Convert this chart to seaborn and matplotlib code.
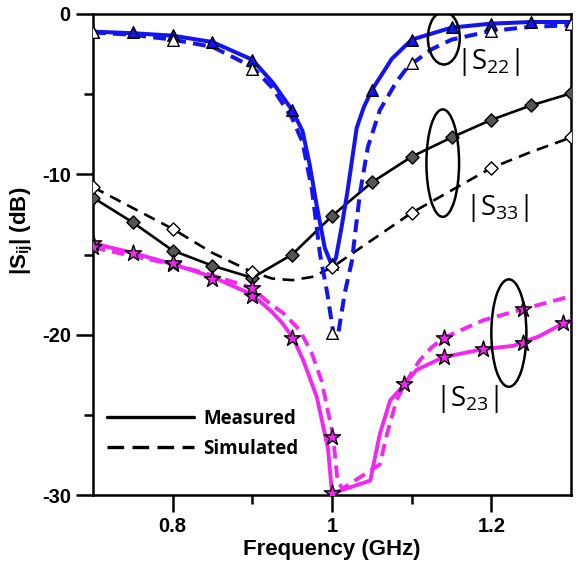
import matplotlib
matplotlib.use("Agg")
import matplotlib.pyplot as plt
import seaborn as sns
from matplotlib.lines import Line2D
from matplotlib.patches import Ellipse
from matplotlib.ticker import FixedLocator, FixedFormatter

# |S22| measured / simulated (dB vs GHz)
s22_meas_x = [0.70, 0.75, 0.80, 0.85, 0.90, 0.926, 0.95, 0.963, 0.972, 0.981, 0.991, 1.000,
              1.005, 1.012, 1.019, 1.031, 1.040, 1.050, 1.075, 1.10, 1.15, 1.20, 1.25, 1.30]
s22_meas_y = [-1.10, -1.20, -1.35, -1.75, -2.85, -4.3, -6.0, -7.3, -9.4, -12.0, -14.6, -15.7,
              -15.2, -13.3, -11.2, -7.1, -5.8, -4.75, -2.8, -1.6, -0.85, -0.6, -0.5, -0.5]
s22_meas_mx = [0.70, 0.75, 0.80, 0.85, 0.90, 0.95, 1.00, 1.05, 1.10, 1.15, 1.20, 1.25, 1.30]
s22_meas_my = [-1.1, -1.15, -1.3, -1.75, -2.9, -6.0, -15.6, -4.75, -1.6, -0.8, -0.6, -0.5, -0.6]

s22_sim_x = [0.70, 0.75, 0.80, 0.85, 0.90, 0.925, 0.95, 0.963, 0.975, 0.985, 0.994, 1.002,
             1.007, 1.016, 1.025, 1.035, 1.045, 1.06, 1.08, 1.095, 1.125, 1.15, 1.20, 1.25, 1.30]
s22_sim_y = [-1.15, -1.3, -1.6, -2.05, -3.3, -4.6, -6.5, -8.0, -11.0, -15.0, -17.4, -20.0,
             -20.2, -17.4, -15.4, -11.2, -8.3, -6.0, -4.3, -3.3, -2.2, -1.6, -1.05, -0.8, -0.7]
s22_sim_mx = [0.70, 0.80, 0.90, 1.00, 1.10, 1.20, 1.30]
s22_sim_my = [-1.15, -1.6, -3.4, -19.9, -3.05, -1.05, -0.6]

# |S33|
s33_meas_x = [0.70, 0.75, 0.80, 0.85, 0.90, 0.95, 1.00, 1.05, 1.10, 1.15, 1.20, 1.25, 1.30]
s33_meas_y = [-11.45, -13.0, -14.75, -15.7, -16.45, -15.0, -12.6, -10.5, -8.9, -7.7, -6.6, -5.7, -4.95]

s33_sim_x = [0.70, 0.75, 0.80, 0.85, 0.90, 0.925, 0.95, 0.975, 1.00, 1.05, 1.10, 1.15, 1.20, 1.25, 1.30]
s33_sim_y = [-10.8, -12.1, -13.4, -14.9, -16.1, -16.5, -16.6, -16.4, -15.8, -14.1, -12.4, -11.0, -9.6, -8.6, -7.7]
s33_sim_mx = [0.70, 0.80, 0.90, 1.00, 1.10, 1.20, 1.30]
s33_sim_my = [-10.8, -13.4, -16.1, -15.8, -12.4, -9.6, -7.7]

# |S23|
s23_meas_x = [0.70, 0.75, 0.80, 0.85, 0.90, 0.925, 0.938, 0.951, 0.964, 0.981, 0.995, 1.000, 1.048,
              1.06, 1.073, 1.091, 1.106, 1.14, 1.19, 1.227, 1.26, 1.29, 1.30]
s23_meas_y = [-14.3, -14.9, -15.6, -16.4, -17.5, -18.6, -19.3, -20.2, -21.6, -23.9, -27.1, -29.9, -29.1,
              -26.2, -24.1, -23.1, -22.2, -21.4, -20.9, -20.7, -20.1, -19.3, -19.1]
s23_meas_mx = [0.70, 0.75, 0.80, 0.85, 0.90, 0.95, 1.00, 1.09, 1.14, 1.19, 1.24, 1.29]
s23_meas_my = [-14.3, -14.9, -15.6, -16.5, -17.6, -20.2, -29.9, -23.1, -21.4, -20.9, -20.5, -19.3]

s23_sim_x = [0.70, 0.75, 0.80, 0.85, 0.90, 0.918, 0.94, 0.96, 0.975, 0.987, 1.001, 1.007, 1.013,
             1.060, 1.069, 1.081, 1.091, 1.11, 1.125, 1.14, 1.19, 1.24, 1.30]
s23_sim_y = [-14.55, -15.1, -15.6, -16.3, -17.1, -17.9, -18.7, -19.75, -21.2, -22.9, -26.2, -29.1, -29.6,
             -28.1, -26.2, -24.1, -23.1, -21.6, -20.8, -20.2, -19.1, -18.4, -17.6]
s23_sim_mx = [0.70, 0.80, 0.90, 1.00, 1.14, 1.24]
s23_sim_my = [-14.55, -15.5, -17.1, -26.4, -20.2, -18.4]

x_ticks = [0.8, 1.0, 1.2]
x_tick_labels = ["0.8", "1", "1.2"]
x_minor = [0.9, 1.1]
y_ticks = [-30, -20, -10, 0]
y_tick_labels = ["-30", "-20", "-10", "0"]
y_minor = [-25, -15, -5]
legend_labels = ["Measured", "Simulated"]

BLUE = "#1414f0"
MAGENTA = "#f028f0"

sns.set_theme(style="ticks", rc={"axes.edgecolor": "black", "xtick.color": "black",
                                 "ytick.color": "black", "text.color": "black",
                                 "axes.labelcolor": "black"})
plt.rcParams["font.family"] = ["Liberation Sans", "DejaVu Sans"]

fig, ax = plt.subplots(figsize=(5.79, 5.69), dpi=100)
fig.subplots_adjust(left=0.1606, right=0.9862, top=0.9754, bottom=0.13)


def curve(x, y, color, lw, dash=None, z=2):
    ls = "-" if dash is None else (0, dash)
    sns.lineplot(x=x, y=y, ax=ax, color=color, linewidth=lw, linestyle=ls,
                 sort=False, estimator=None, zorder=z)


def marks(x, y, marker, size, face):
    sns.scatterplot(x=x, y=y, ax=ax, marker=marker, s=size, color=face,
                    edgecolor="black", linewidth=1.0, zorder=5)


# black S33 first, coloured curves on top
curve(s33_meas_x, s33_meas_y, "black", 1.9)
curve(s33_sim_x, s33_sim_y, "black", 1.9, dash=(4.5, 2.8))
curve(s23_meas_x, s23_meas_y, MAGENTA, 2.8, z=3)
curve(s23_sim_x, s23_sim_y, MAGENTA, 2.8, dash=(3.2, 1.8), z=3)
curve(s22_meas_x, s22_meas_y, BLUE, 2.9, z=3)
curve(s22_sim_x, s22_sim_y, BLUE, 2.9, dash=(3.2, 1.8), z=3)

marks(s22_meas_mx, s22_meas_my, "^", 70, BLUE)
marks(s22_sim_mx, s22_sim_my, "^", 70, "white")
marks(s33_meas_x, s33_meas_y, "D", 45, "#555555")
marks(s33_sim_mx, s33_sim_my, "D", 45, "white")
marks(s23_meas_mx, s23_meas_my, "*", 150, MAGENTA)
marks(s23_sim_mx, s23_sim_my, "*", 150, MAGENTA)

# ellipses and labels
for (cx, cy, w, h) in [(1.1404, -1.5, 0.040, 3.3), (1.139, -9.3, 0.041, 6.7), (1.222, -19.9, 0.044, 6.7)]:
    ax.add_patch(Ellipse((cx, cy), w, h, fill=False, edgecolor="black", linewidth=1.8, zorder=6))
for (tx, ty, txt) in [(1.196, -3.0, r"|S$_\mathregular{22}$|"),
                      (1.207, -12.1, r"|S$_\mathregular{33}$|"),
                      (1.170, -24.0, r"|S$_\mathregular{23}$|")]:
    ax.text(tx, ty, txt, fontsize=20, family="Open Sans", ha="center", va="center", zorder=7)

handles = [Line2D([], [], color="black", linewidth=2.4),
           Line2D([], [], color="black", linewidth=2.4, linestyle=(0, (5, 2.5)))]
ax.legend(handles, legend_labels, loc="lower left", bbox_to_anchor=(0.03, 0.075),
          frameon=False, handlelength=4.6, handletextpad=0.5, borderpad=0, borderaxespad=0,
          labelspacing=0.55, prop={"family": "Open Sans", "weight": "bold", "size": 13.5})

ax.set_xlim(0.7, 1.3)
ax.set_ylim(-30, 0)
ax.xaxis.set_major_locator(FixedLocator(x_ticks))
ax.xaxis.set_major_formatter(FixedFormatter(x_tick_labels))
ax.xaxis.set_minor_locator(FixedLocator(x_minor))
ax.yaxis.set_major_locator(FixedLocator(y_ticks))
ax.yaxis.set_major_formatter(FixedFormatter(y_tick_labels))
ax.yaxis.set_minor_locator(FixedLocator(y_minor))
ax.tick_params(which="major", direction="out", length=12, width=1.8, labelsize=14.5, pad=4)
ax.tick_params(which="minor", direction="out", length=6.5, width=1.8)
for lab in ax.get_xticklabels() + ax.get_yticklabels():
    lab.set_fontweight("bold")
for sp in ax.spines.values():
    sp.set_linewidth(1.8)
    sp.set_visible(True)

ax.set_xlabel("Frequency (GHz)", fontsize=16, fontweight="bold", labelpad=2)
ax.set_ylabel(r"|S$_\mathregular{ij}$| (dB)", fontsize=16, fontweight="bold", va="center")
ax.yaxis.set_label_coords(-0.149, 0.55)

fig.savefig("out.png", dpi=100)
